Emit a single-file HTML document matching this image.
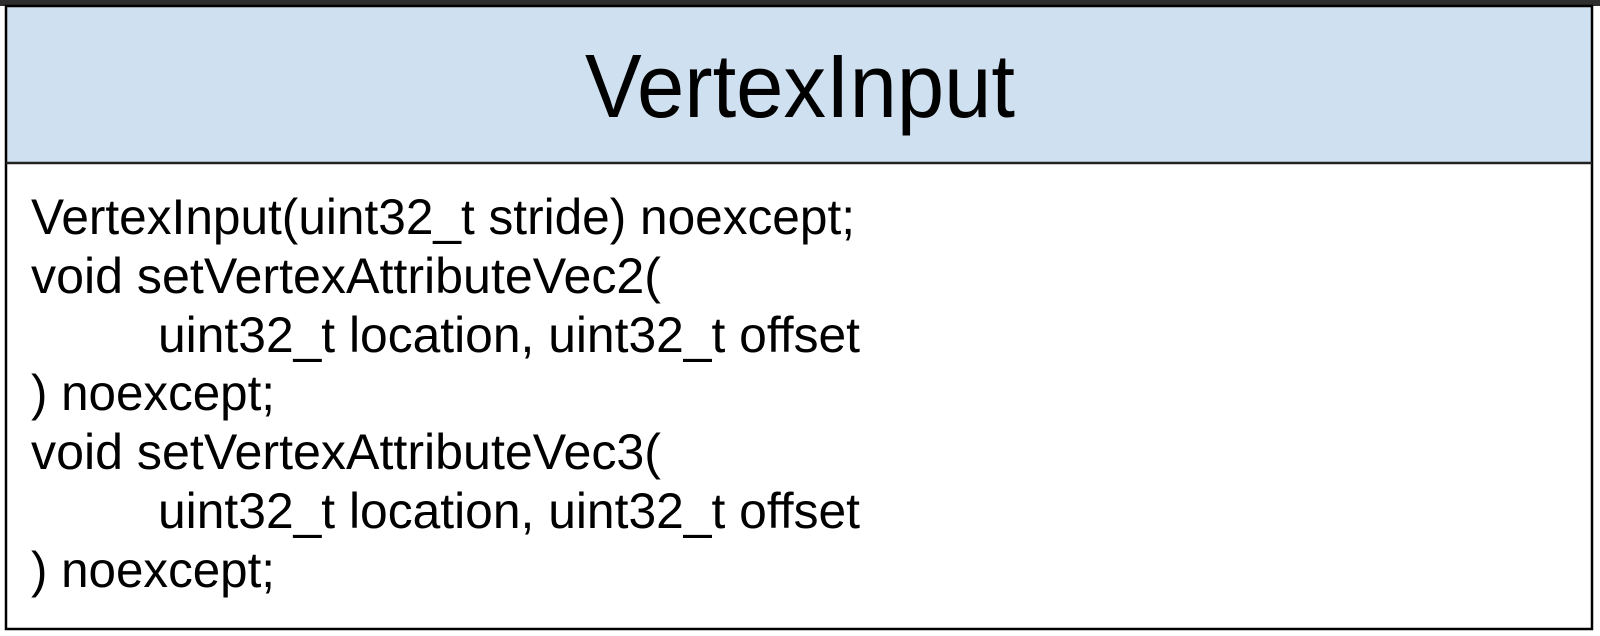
<!DOCTYPE html>
<html><head><style>
html,body{margin:0;padding:0;background:#fff;width:1600px;height:636px;overflow:hidden}
</style></head><body>
<svg width="1600" height="636" xmlns="http://www.w3.org/2000/svg" style="display:block">
<rect x="0" y="0" width="1600" height="6" fill="#2e2e2e"/>
<rect x="6" y="6" width="1586" height="157" fill="#cfe0f0"/>
<rect x="6" y="6" width="1586" height="623" fill="none" stroke="#000" stroke-width="2.5"/>
<line x1="6" y1="163" x2="1592" y2="163" stroke="#222" stroke-width="2.5"/>
<text x="585" y="117" textLength="430" lengthAdjust="spacingAndGlyphs" font-family="Liberation Sans, sans-serif" font-size="90">VertexInput</text>
<g font-family="Liberation Sans, sans-serif" font-size="50" fill="#000">
<text x="31" y="234" textLength="824" lengthAdjust="spacingAndGlyphs">VertexInput(uint32_t stride) noexcept;</text>
<text x="31" y="293" textLength="630" lengthAdjust="spacingAndGlyphs">void setVertexAttributeVec2(</text>
<text x="158" y="352" textLength="702" lengthAdjust="spacingAndGlyphs">uint32_t location, uint32_t offset</text>
<text x="31" y="410" textLength="244" lengthAdjust="spacingAndGlyphs">) noexcept;</text>
<text x="31" y="469" textLength="630" lengthAdjust="spacingAndGlyphs">void setVertexAttributeVec3(</text>
<text x="158" y="528" textLength="702" lengthAdjust="spacingAndGlyphs">uint32_t location, uint32_t offset</text>
<text x="31" y="587" textLength="244" lengthAdjust="spacingAndGlyphs">) noexcept;</text>
</g>
</svg>
</body></html>
